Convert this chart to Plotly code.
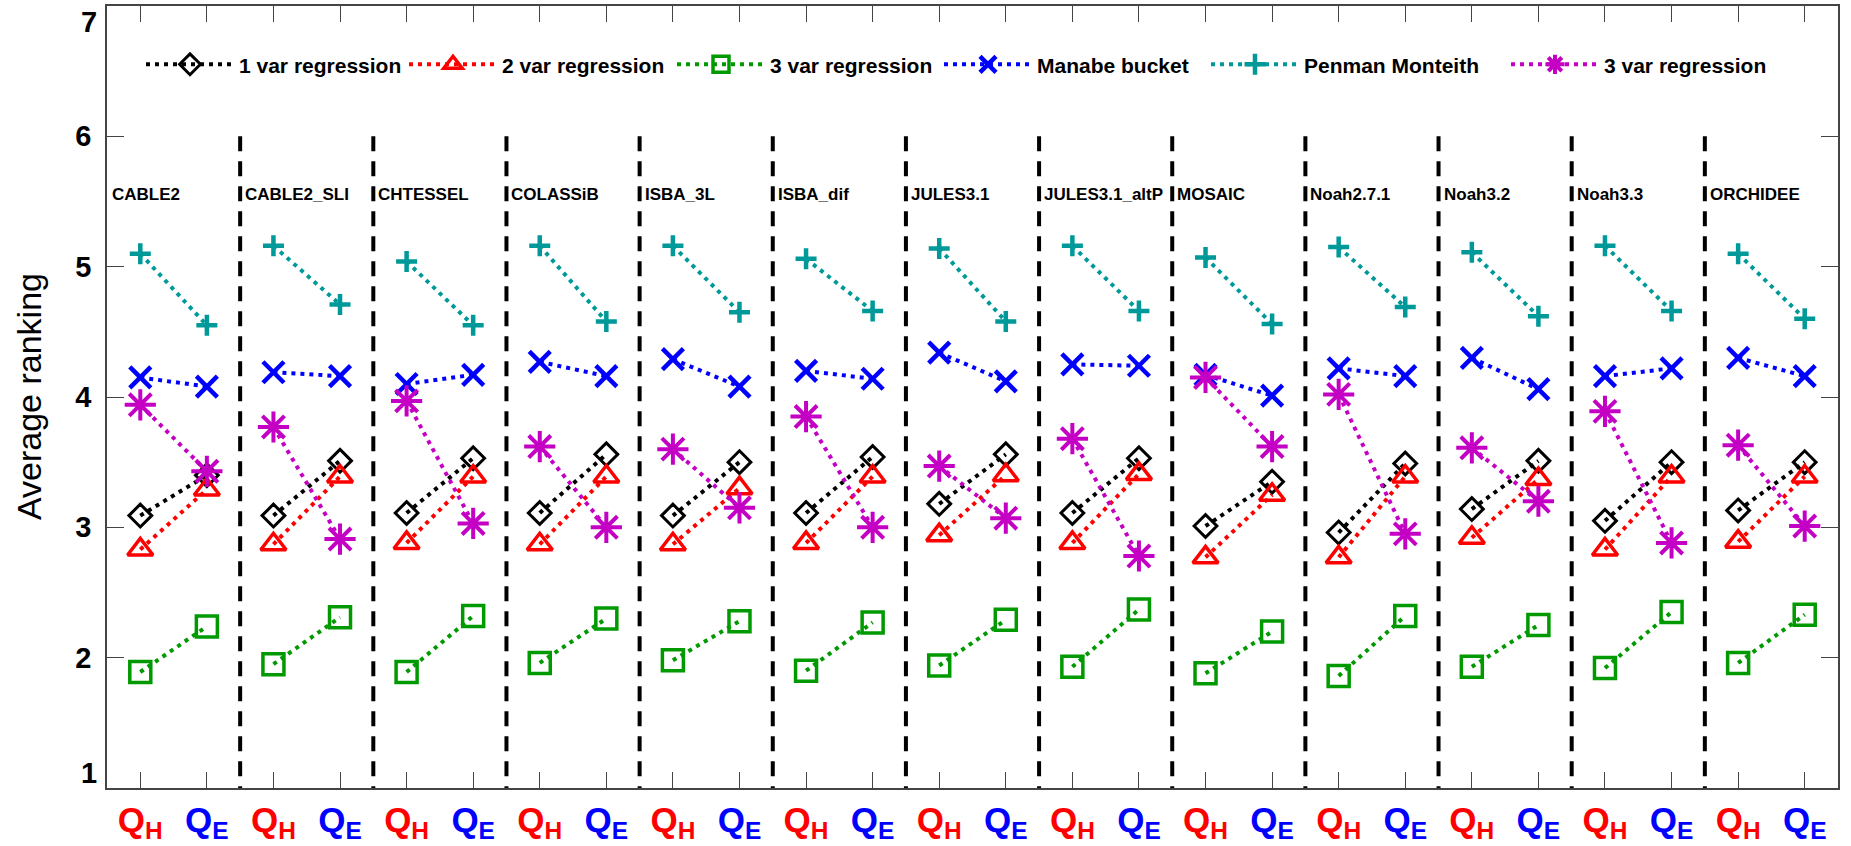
import plotly.graph_objects as go

models = ["CABLE2", "CABLE2_SLI", "CHTESSEL", "COLASSiB", "ISBA_3L", "ISBA_dif",
          "JULES3.1", "JULES3.1_altP", "MOSAIC", "Noah2.7.1", "Noah3.2", "Noah3.3", "ORCHIDEE"]
flux_labels = ["Q<sub>H</sub>", "Q<sub>E</sub>"]
flux_colors = ["#FF0000", "#0000FF"]
y_ticks = [1, 2, 3, 4, 5, 6, 7]

one_var_qh = [3.09, 3.09, 3.11, 3.11, 3.09, 3.11, 3.18, 3.11, 3.01, 2.96, 3.14, 3.05, 3.13]
one_var_qe = [3.40, 3.51, 3.53, 3.56, 3.50, 3.54, 3.56, 3.53, 3.35, 3.49, 3.51, 3.50, 3.50]
two_var_qh = [2.83, 2.87, 2.88, 2.87, 2.87, 2.88, 2.94, 2.88, 2.77, 2.77, 2.92, 2.83, 2.89]
two_var_qe = [3.29, 3.39, 3.39, 3.39, 3.30, 3.39, 3.40, 3.41, 3.25, 3.39, 3.37, 3.39, 3.39]
three_var_qh = [1.89, 1.95, 1.89, 1.96, 1.98, 1.90, 1.94, 1.93, 1.88, 1.86, 1.93, 1.92, 1.96]
three_var_qe = [2.24, 2.31, 2.32, 2.30, 2.28, 2.27, 2.29, 2.37, 2.20, 2.32, 2.25, 2.35, 2.33]
manabe_qh = [4.15, 4.19, 4.10, 4.27, 4.29, 4.20, 4.34, 4.25, 4.17, 4.22, 4.30, 4.16, 4.30]
manabe_qe = [4.08, 4.16, 4.17, 4.16, 4.08, 4.14, 4.12, 4.24, 4.01, 4.16, 4.06, 4.22, 4.16]
penman_qh = [5.10, 5.16, 5.04, 5.16, 5.16, 5.06, 5.14, 5.16, 5.07, 5.15, 5.11, 5.16, 5.10]
penman_qe = [4.55, 4.71, 4.55, 4.58, 4.65, 4.66, 4.58, 4.66, 4.56, 4.69, 4.62, 4.66, 4.60]
star_qh = [3.94, 3.77, 3.97, 3.62, 3.60, 3.85, 3.47, 3.68, 4.15, 4.02, 3.61, 3.89, 3.63]
star_qe = [3.43, 2.91, 3.03, 3.00, 3.15, 3.00, 3.07, 2.78, 3.62, 2.95, 3.20, 2.88, 3.01]

series = [
    ("1 var regression", one_var_qh, one_var_qe, "#000000", "diamond-open", 17.5, 3),
    ("2 var regression", two_var_qh, two_var_qe, "#FF0000", "triangle-up-open", 22, 3.5),
    ("3 var regression", three_var_qh, three_var_qe, "#009A00", "square-open", 21, 3.5),
    ("Manabe bucket", manabe_qh, manabe_qe, "#0000FF", "x-thin-open", 21, 4.5),
    ("Penman Monteith", penman_qh, penman_qe, "#009999", "cross-thin-open", 15, 4.5),
    ("3 var regression", star_qh, star_qe, "#C400C4", "asterisk-open", 26, 4),
]
# pixel x where each legend entry's text begins
legend_text_px = [239, 502, 770, 1037, 1304, 1604]

SANS = "Liberation Sans, Arial, Helvetica, sans-serif"
W, H = 1851, 846
ML, MR, MT, MB = 107, 13, 6, 58
ITEMW = 88

fig = go.Figure()
legend_layouts = {}
for i, (name, qh, qe, color, symbol, size, lw) in enumerate(series):
    xs, ys = [], []
    for k in range(len(models)):
        xs += [2 * k + 1, 2 * k + 2, None]
        ys += [qh[k], qe[k], None]
    lname = "legend" if i == 0 else f"legend{i + 1}"
    fig.add_trace(go.Scatter(
        x=xs, y=ys, name=name, mode="lines+markers", legend=lname,
        line=dict(color=color, width=4, dash="4px,5px"),
        marker=dict(symbol=symbol, size=size, color=color,
                    line=dict(color=color, width=lw)),
        connectgaps=False,
    ))
    lx = (legend_text_px[i] - (ITEMW + 10) - ML) / (W - ML - MR)
    legend_layouts[lname] = dict(
        orientation="h", x=lx, y=0.925, xanchor="left", yanchor="middle",
        bgcolor="rgba(0,0,0,0)", borderwidth=0, itemwidth=ITEMW,
        font=dict(family=SANS, size=21, color="black", weight="bold"))

n = len(models)
tickvals = list(range(1, 2 * n + 1))
ticktext = []
for k in range(n):
    for lab, col in zip(flux_labels, flux_colors):
        ticktext.append(f"<span style='color:{col}'>{lab}</span>")

# separators between models
for k in range(1, n):
    fig.add_shape(type="line", xref="x", yref="y", x0=2 * k + 0.5, x1=2 * k + 0.5,
                  y0=6, y1=1, line=dict(color="black", width=4, dash="15px,10px"))

# model name labels
for k, m in enumerate(models):
    fig.add_annotation(x=2 * k + 0.5, y=5.55, xref="x", yref="y", text=m, xshift=3,
                       showarrow=False, xanchor="left", yanchor="middle",
                       font=dict(family=SANS, size=17, color="black", weight="bold"))

# end y tick labels drawn inside the frame height (as in the reference)
ytick_text = [str(v) if v not in (y_ticks[0], y_ticks[-1]) else "" for v in y_ticks]
fig.add_annotation(x=0, y=y_ticks[0], xref="paper", yref="y", text=str(y_ticks[0]),
                   showarrow=False, xanchor="right", yanchor="bottom", xshift=-8, yshift=-3,
                   font=dict(family=SANS, size=29, color="black", weight="bold"))
fig.add_annotation(x=0, y=y_ticks[-1], xref="paper", yref="y", text=str(y_ticks[-1]),
                   showarrow=False, xanchor="right", yanchor="top", xshift=-8, yshift=2,
                   font=dict(family=SANS, size=29, color="black", weight="bold"))

# y-axis title
fig.add_annotation(x=0, y=0.5, xref="paper", yref="paper", xshift=-78,
                   text="Average ranking", textangle=-90, showarrow=False,
                   xanchor="center", yanchor="middle",
                   font=dict(family=SANS, size=34, color="black"))

fig.update_layout(
    width=W, height=H,
    margin=dict(l=ML, r=MR, t=MT, b=MB, autoexpand=False),
    plot_bgcolor="white", paper_bgcolor="white",
    showlegend=True,
    xaxis=dict(range=[0.5, 2 * n + 0.5], tickvals=tickvals, ticktext=ticktext,
               ticks="inside", ticklen=16, tickwidth=1, tickcolor="#444",
               showline=True, linecolor="#444", linewidth=1.5, mirror="ticks",
               showgrid=False, zeroline=False, ticklabelstandoff=0, automargin=False,
               tickfont=dict(family=SANS, size=35, weight="bold")),
    yaxis=dict(range=[y_ticks[0], y_ticks[-1]], tickvals=y_ticks, ticktext=ytick_text,
               ticks="inside", ticklen=17, tickwidth=1, tickcolor="#444",
               showline=True, linecolor="#444", linewidth=1.5, mirror="ticks",
               showgrid=False, zeroline=False, ticklabelstandoff=8, automargin=False,
               tickfont=dict(family=SANS, size=29, color="black", weight="bold")),
    **legend_layouts,
)

fig.write_html("out.html", config={"displayModeBar": False},
               post_script="document.body.style.margin='0px';")
